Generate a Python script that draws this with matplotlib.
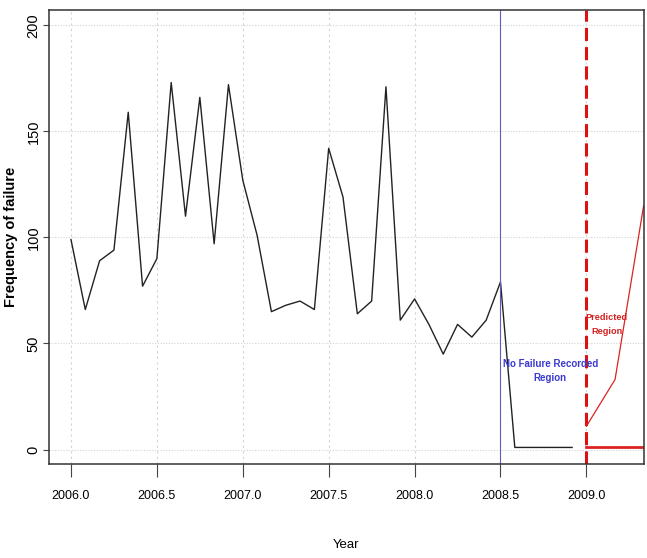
import numpy as np
import pandas as pd
import matplotlib
matplotlib.use('Agg')
import matplotlib.pyplot as plt

# monthly failure counts, Jan 2006 .. Dec 2008 (last 5 months: none recorded)
failures = [99, 66, 89, 94, 159, 77, 90, 173, 110, 166, 97, 172,
            127, 101, 65, 68, 70, 66, 142, 119, 64, 70, 171, 61,
            71, 59, 45, 59, 53, 61, 79, 1, 1, 1, 1, 1]
start_month = '2006-01'

# predicted values (upper / lower)
pred_months = ['2009-01', '2009-03', '2009-05']
pred_upper = [11, 33, 115]
pred_lower = [1, 1, 1]

x_ticks = [2006.0, 2006.5, 2007.0, 2007.5, 2008.0, 2008.5, 2009.0]
y_ticks = [0, 50, 100, 150, 200]
no_record_start = 2008.5
pred_start = 2009.0


def decimal_year(periods):
    return np.array([p.year + (p.month - 1) / 12 for p in periods])


obs_x = decimal_year(pd.period_range(start_month, periods=len(failures), freq='M'))
pred_x = decimal_year([pd.Period(m, freq='M') for m in pred_months])

sans = ['Liberation Sans', 'DejaVu Sans']

fig = plt.figure(figsize=(6.47, 5.58), dpi=100)
ax = fig.add_axes([0.0757, 0.1685, 0.9196, 0.8136])

for xt in x_ticks:
    ax.axvline(xt, color='#d3d3d3', lw=0.8, linestyle=(0, (2, 3)), zorder=0)
for yt in y_ticks:
    ax.axhline(yt, color='#d3d3d3', lw=0.8, linestyle=(0, (1, 1.5)), zorder=0)

ax.plot(obs_x, failures, color='#222222', lw=1.0)
ax.axvline(no_record_start, color='#5c5cc0', lw=0.8)
ax.axvline(pred_start, color='#dd1111', lw=2.2, linestyle=(0, (4.3, 2)))
ax.plot(pred_x, pred_upper, color='#dd2222', lw=0.9)
ax.plot(pred_x, pred_lower, color='#dd2222', lw=2.0)

ax.text(2008.79, 37, 'No Failure Recorded\nRegion', color='#3a3ad0',
        ha='center', va='center', fontsize=7, fontweight='bold',
        family=sans, linespacing=1.6)
ax.text(2009.118, 59, 'Predicted\nRegion', color='#d42020',
        ha='center', va='center', fontsize=6.6, fontweight='bold',
        family=sans, linespacing=1.7)

ax.set_xlim(2005.872, 2009.335)
ax.set_ylim(-6.8, 207.2)

ax.set_xticks(x_ticks)
ax.set_xticklabels(['%.1f' % v for v in x_ticks], family=sans, fontsize=9)
ax.tick_params(axis='x', length=9.5, pad=9, width=0.8, color='#444444')
ax.set_yticks(y_ticks)
ax.set_yticklabels([str(v) for v in y_ticks], rotation=90, va='center',
                   family=sans, fontsize=10.5)
ax.tick_params(axis='y', length=4.5, pad=1.5, width=0.8, color='#444444')

ax.set_xlabel('Year', family=sans, fontsize=9.5)
ax.xaxis.set_label_coords(0.5, -0.165)
ax.set_ylabel('Frequency of failure', family=sans, fontsize=10.5,
              fontweight='bold')
ax.yaxis.set_label_coords(-0.052, 0.5)

for s in ax.spines.values():
    s.set_color('#333333')
    s.set_linewidth(1.1)

fig.savefig('out.png', dpi=100)
